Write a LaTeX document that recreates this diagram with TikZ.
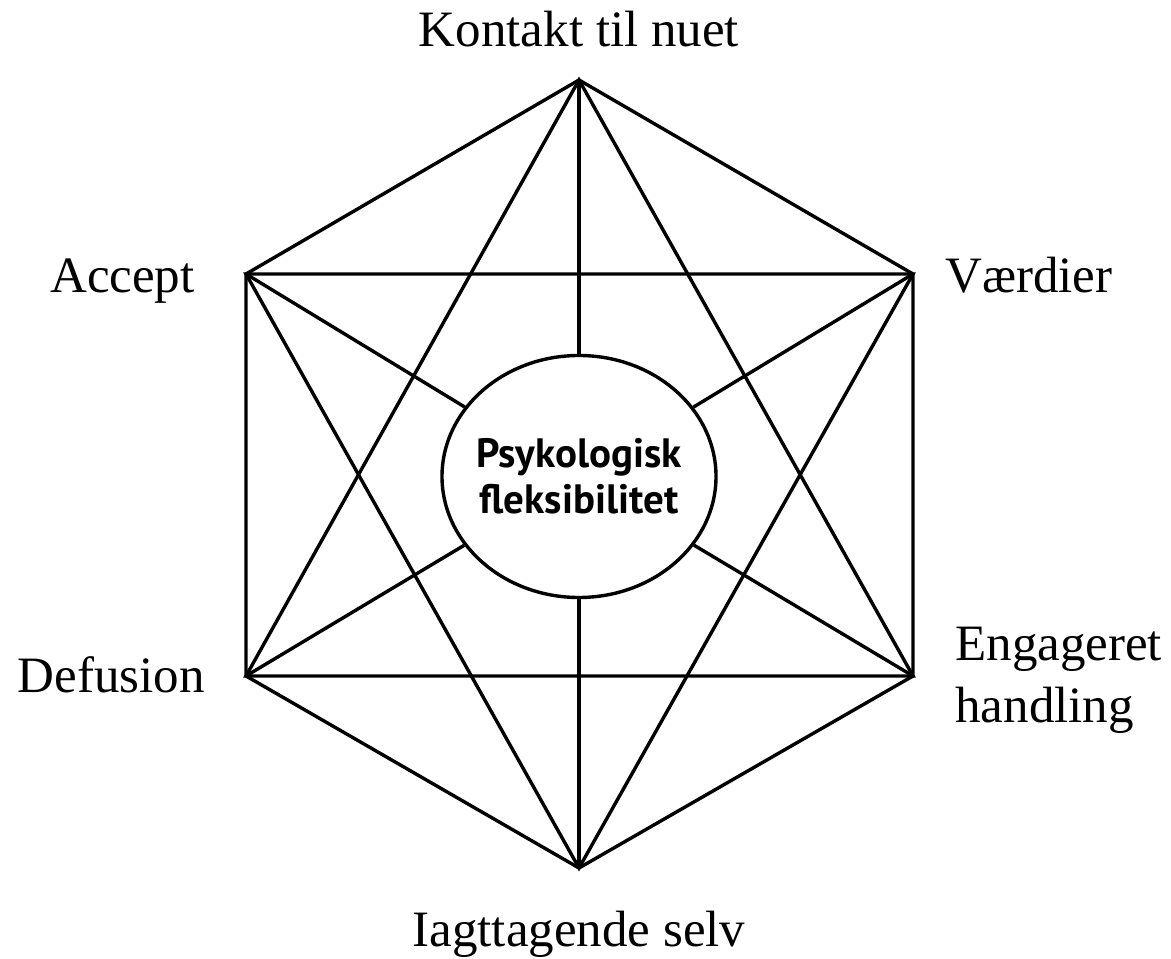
\documentclass[tikz,border=0pt]{standalone}
\usepackage{fontspec}
\setmainfont{Liberation Serif}
\newfontfamily\centerfont{PT Sans}
\usetikzlibrary{shapes.geometric, positioning}
\tikzset{
    edge/.style={line width=1.7pt, black},
    corner/.style={font=\fontsize{25.5}{31}\selectfont, inner sep=0pt},
    hub/.style={ellipse, draw=black, line width=1.7pt, minimum width=137pt, minimum height=121pt, inner sep=-6pt, align=center, font=\centerfont\bfseries\fontsize{20.5}{23}\selectfont}
}
\begin{document}
\begin{tikzpicture}[x=0.5pt, y=0.5pt]
    \useasboundingbox (0,0) rectangle (1171,958);

    % Hexagon corners
    \coordinate (top) at (579, 878);
    \coordinate (ul) at (246, 684);
    \coordinate (ur) at (913, 684);
    \coordinate (ll) at (246, 282);
    \coordinate (lr) at (913, 282);
    \coordinate (bot) at (579, 90);

    % Centre
    \node[hub] (psy) at (579, 481.5) {Psykologisk\\fleksibilitet};

    % Outer hexagon
    \draw[edge, line join=miter] (top) -- (ur) -- (lr) -- (bot) -- (ll) -- (ul) -- cycle;

    % Two triangles
    \draw[edge] (top) -- (ll) -- (lr) -- cycle;
    \draw[edge] (bot) -- (ul) -- (ur) -- cycle;

    % Spokes to the centre
    \draw[edge] (top) -- (psy);
    \draw[edge] (bot) -- (psy);
    \draw[edge] (ul) -- (psy);
    \draw[edge] (ur) -- (psy);
    \draw[edge] (ll) -- (psy);
    \draw[edge] (lr) -- (psy);

    % Labels
    \node[corner, anchor=base] (kontakt) at (579, 911) {Kontakt til nuet};
    \node[corner, anchor=base east] (accept) at (195, 665) {Accept};
    \node[corner, anchor=base west] (vaerdier) at (945, 665) {Værdier};
    \node[corner, anchor=base east] (defusion) at (205, 265) {Defusion};
    \node[corner, anchor=base west, align=left] (handling) at (955, 235) {Engageret\\handling};
    \node[corner, anchor=base] (selv) at (579, 12) {Iagttagende selv};
\end{tikzpicture}
\end{document}
